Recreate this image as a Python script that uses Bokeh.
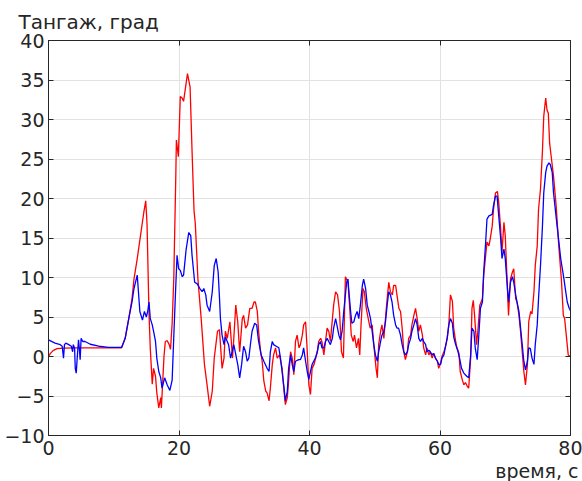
from bokeh.plotting import figure
from bokeh.models import (LinearAxis, Range1d, SingleIntervalTicker, Title,
                          CustomJSTickFormatter, ColumnDataSource)
from bokeh.embed import file_html
from bokeh.resources import INLINE

# Pitch angle over time: commanded (red) and measured (blue)
t_red = [0, 0.3, 0.7, 1.3, 2.3, 4, 6, 8, 10, 11.2, 11.75, 12.3, 12.8, 13.1, 13.6, 14.1, 14.6, 14.9,
         15.1, 15.4, 15.6, 15.9, 16.1, 16.4, 16.6, 16.9, 17.2, 17.3, 17.7, 17.9, 18.2, 18.5, 18.7,
         18.95, 19.2, 19.5, 19.6, 19.9, 20.2, 20.5, 20.7, 21.3, 21.7, 22.0, 22.3, 22.5, 22.9, 23.4,
         23.9, 24.3, 24.7, 25.1, 25.4, 25.9, 26.2, 26.6, 26.9, 27.1, 27.4, 27.8, 28.2, 28.4, 28.7,
         29.0, 29.3, 29.7, 29.9, 30.2, 30.5, 30.85, 31.2, 31.5, 31.7, 32.0, 32.2, 32.5, 32.75, 33.0,
         33.3, 33.5, 33.8, 34.0, 34.3, 34.5, 34.8, 35.05, 35.4, 35.8, 36.1, 36.3, 36.6, 36.8, 37.1,
         37.35, 37.6, 37.85, 38.1, 38.4, 38.6, 38.9, 39.1, 39.4, 39.6, 39.9, 40.15, 40.4, 40.7, 41.2,
         41.4, 41.7, 41.9, 42.2, 42.45, 42.7, 42.95, 43.2, 43.7, 44.0, 44.3, 44.6, 44.9, 45.2, 45.5,
         45.9, 46.2, 46.4, 46.7, 46.9, 47.2, 47.5, 47.7, 47.9, 48.2, 48.4, 48.7, 49.0, 49.3, 49.6,
         49.9, 50.2, 50.4, 50.6, 50.9, 51.1, 51.4, 51.6, 51.9, 52.15, 52.4, 52.7, 52.9, 53.2, 53.4,
         53.7, 53.95, 54.2, 54.45, 54.7, 55.0, 55.2, 55.5, 55.7, 56.0, 56.25, 56.5, 56.75, 57.0, 57.3,
         57.5, 57.8, 58.0, 58.3, 58.5, 58.8, 59.05, 59.3, 59.6, 59.8, 60.1, 60.3, 60.6, 60.8, 61.1,
         61.35, 61.6, 61.9, 62.1, 62.4, 62.6, 62.9, 63.1, 63.4, 63.65, 63.9, 64.2, 64.4, 64.7, 64.9,
         65.1, 65.3, 65.6, 65.8, 66.1, 66.5, 66.7, 67.0, 67.2, 67.5, 67.7, 68.0, 68.2, 68.5, 68.8,
         69.0, 69.3, 69.5, 69.8, 70.0, 70.3, 70.5, 70.8, 71.1, 71.3, 71.6, 71.8, 72.1, 72.3, 72.6,
         72.85, 73.1, 73.4, 73.6, 73.9, 74.1, 74.4, 74.6, 74.9, 75.1, 75.4, 75.7, 75.9, 76.2, 76.4,
         76.6, 76.8, 77.1, 77.4, 77.8, 78.2, 78.6, 78.9, 79.1, 79.4, 79.65, 80]
v_red = [0, 0.4, 0.75, 1.0, 1.05, 1.1, 1.1, 1.1, 1.1, 1.1, 2.3, 4.8, 7.3, 9.8, 12.4, 15.3, 18.2, 19.7,
         16.8, 5.5, 1.0, -3.5, -1.5, -2.5, -4.6, -6.5, -5.2, -6.5, 0.0, 1.9, 2.0, 1.5, 0.9,
         4.2, 9.8, 22.4, 27.4, 25.3, 32.9, 32.7, 32.3, 35.8, 34.1, 26.0, 18.5, 16.8, 9.8, 4.8,
         -1.0, -3.6, -6.3, -4.4, -0.2, 3.2, 3.4, -1.5, -0.2, 3.2, 2.3, 4.4, -0.2, 2.3, 6.5,
         4.4, 0.6, 4.8, 5.2, 3.6, 4.0, 6.1, 6.1, 6.9, 6.9, 5.7, 3.2, 0.6, -0.6, -3.1,
         -4.4, -4.6, -5.6, -4.0, -1.0, 0.2, 1.1, -0.2, 0.2, -1.5, -4.4, -6.1, -5.2, -3.1, 0.6,
         -0.2, -2.3, 1.9, 2.7, 1.1, 1.5, 2.7, 4.0, 4.4, 1.5, -3.6, -4.8, -1.5, -1.0, 0.6,
         1.9, 2.3, 1.9, 0.2, 1.9, 3.6, 3.2, 1.9, 6.5, 8.2, 7.8, 5.7, 0.6, -0.2, 10.1,
         9.4, 5.7, 2.7, 1.9, 2.7, 1.1, 2.3, 0.2, 4.0, 8.6, 8.2, 6.1, 4.8, 3.6, 4.0,
         1.1, -1.5, -2.7, 1.5, 3.2, 4.0, 2.3, 4.4, 7.3, 9.4, 8.2, 7.8, 9.0, 9.0, 7.8,
         6.1, 5.7, 3.6, 0.6, -0.4, 0.6, 2.3, 2.7, 4.0, 5.2, 6.1, 4.8, 3.2, 4.0, 2.7,
         1.1, 0.2, 1.1, 0.2, 0.6, -0.2, 0.4, -0.2, -0.6, -1.5, -0.8, 0.0, 0.6, 1.1, 2.3,
         4.0, 7.8, 7.0, 3.6, 1.9, 1.1, 0.4, -1.9, -2.9, -3.6, -3.3, -3.8, -4.0, -0.2, 6.1,
         7.1, 5.2, 1.5, 3.2, 6.5, 7.3, 10.3, 12.8, 14.5, 14.0, 14.9, 16.5, 18.6, 20.7, 20.9,
         19.5, 16.1, 13.2, 17.0, 15.3, 9.4, 5.2, 9.8, 10.7, 11.1, 7.3, 6.9, 5.2, 3.6, 0.6,
         -1.9, -3.6, -1.0, 4.4, 5.7, 5.4, 8.2, 11.5, 14.0, 18.6, 21.2, 26.0, 30.4, 32.7, 31.2,
         30.8, 27.0, 24.9, 22.8, 19.1, 14.0, 9.8, 5.2, 4.8, 2.3, 0.2, 0.0]

t_blue = [0, 1.0, 1.8, 2.1, 2.3, 2.45, 2.65, 3.1, 3.5, 3.7, 3.8, 4.0, 4.1, 4.25, 4.4, 4.6, 4.75, 4.85,
          5.0, 5.25, 5.6, 6.4, 7.7, 9.2, 11.2, 11.75, 12.3, 12.8, 13.1, 13.6, 14.0, 14.4, 14.7, 15.0,
          15.2, 15.4, 15.6, 15.9, 16.1, 16.4, 16.6, 16.9, 17.2, 17.4, 17.8, 18.2, 18.6, 18.95, 19.2,
          19.45, 19.7, 19.95, 20.2, 20.5, 20.7, 21.1, 21.5, 21.8, 22.0, 22.4, 22.8, 23.2, 23.55, 23.8,
          24.1, 24.3, 24.7, 25.1, 25.4, 25.7, 26.0, 26.2, 26.35, 26.6, 26.9, 27.1, 27.6, 27.9, 28.15,
          28.4, 29.0, 29.3, 29.6, 29.9, 30.2, 30.45, 30.7, 31.0, 31.2, 31.6, 31.9, 32.2, 32.6, 33.0,
          33.5, 33.8, 34.0, 34.3, 34.5, 34.9, 35.3, 35.55, 35.8, 36.1, 36.3, 36.6, 36.8, 37.1, 37.35,
          37.6, 37.85, 38.35, 38.6, 38.9, 39.1, 39.4, 39.65, 39.9, 40.15, 40.4, 40.65, 40.9, 41.2,
          41.4, 41.7, 41.9, 42.2, 42.45, 42.7, 42.95, 43.2, 43.5, 43.7, 44.0, 44.2, 44.5, 44.75, 45.0,
          45.25, 45.5, 45.7, 45.9, 46.0, 46.3, 46.5, 46.8, 47.05, 47.3, 47.55, 47.8, 48.1, 48.3, 48.6,
          48.85, 49.1, 49.35, 49.6, 49.85, 50.1, 50.4, 50.6, 50.9, 51.1, 51.4, 51.65, 51.9, 52.15,
          52.4, 52.65, 52.9, 53.2, 53.4, 53.65, 53.95, 54.2, 54.45, 54.7, 55.0, 55.2, 55.5, 55.7, 56.0,
          56.25, 56.5, 56.75, 57.0, 57.3, 57.5, 57.8, 58.0, 58.3, 58.5, 58.8, 59.0, 59.3, 59.6, 59.8,
          60.1, 60.3, 60.6, 60.8, 61.1, 61.35, 61.6, 61.9, 62.1, 62.4, 62.7, 63.0, 63.3, 63.65, 64.1,
          64.4, 64.7, 64.9, 65.2, 65.4, 65.7, 65.95, 66.2, 66.5, 66.7, 67.0, 67.2, 67.5, 68.0, 68.2,
          68.5, 68.75, 69.0, 69.3, 69.5, 69.8, 70.0, 70.3, 70.5, 70.8, 71.1, 71.3, 71.6, 71.8, 72.1,
          72.3, 72.6, 72.85, 73.1, 73.4, 73.6, 73.85, 74.1, 74.4, 74.6, 74.9, 75.1, 75.4, 75.7, 75.9,
          76.2, 76.4, 76.7, 76.9, 77.2, 77.4, 77.95, 78.5, 79.0, 79.2, 79.5, 79.8, 80]
v_blue = [2.1, 1.7, 1.5, 1.3, -0.2, 1.5, 1.7, 1.5, 1.3, 0.6, 1.5, 1.05, -1.5, -2.1, -0.2, 2.1, 0.8, -0.4,
          2.3, 1.9, 1.9, 1.55, 1.3, 1.15, 1.15, 2.3, 4.8, 6.9, 8.6, 10.3, 5.7, 4.6, 5.7, 5.0,
          5.7, 6.9, 4.8, 4.0, 3.2, 1.9, -0.2, -1.9, -2.7, -4.0, -2.7, -3.6, -4.3, -3.0, 2.5,
          7.8, 12.8, 11.1, 10.9, 10.1, 10.3, 13.6, 15.7, 15.3, 12.8, 9.4, 9.2, 8.6, 8.2, 8.6,
          7.8, 6.5, 5.7, 8.2, 11.5, 12.4, 10.7, 7.5, 4.8, 2.7, 1.5, 2.5, 1.5, -0.2, 0.6,
          1.5, -1.0, -2.7, -1.0, 1.3, 0.6, -0.6, -0.2, 1.9, 3.2, 4.2, 4.0, 1.9, 0.2, -0.6,
          -1.5, -1.9, 0.6, 1.9, 1.5, 1.3, 1.1, -0.2, -1.9, -4.0, -5.6, -4.4, -1.5, 0.2, -1.0,
          -1.9, -0.6, -0.4, -0.4, 0.2, 1.1, -0.6, -1.9, -2.9, -1.9, -1.0, -0.6, -0.2, 0.6,
          1.5, 1.9, 1.1, 1.1, 1.9, 2.3, 1.9, 1.5, 2.3, 3.6, 4.8, 4.0, 2.7, 2.1, 3.2,
          5.7, 7.8, 9.4, 9.8, 8.6, 5.7, 4.2, 4.4, 5.2, 5.7, 4.8, 6.5, 9.0, 9.8, 8.6,
          6.5, 5.7, 4.8, 3.2, 1.5, 0.2, -0.6, 0.6, 1.9, 2.7, 3.2, 4.4, 6.5, 8.2,
          7.8, 6.9, 5.2, 4.0, 3.6, 3.6, 2.7, 1.5, 0.6, 0.2, 0.6, 1.5, 2.3, 3.2, 4.0,
          4.8, 4.0, 2.3, 1.9, 2.3, 1.9, 1.5, 0.6, 0.8, 0.6, 0.2, 0.4, -0.2, -0.6, -1.0,
          -1.0, -0.2, 0.2, 1.1, 2.3, 4.0, 4.8, 4.2, 2.5, 1.5, 0.8, -0.2, -1.5, -2.1, -2.5,
          -2.7, 0.2, 3.6, 3.2, 1.1, -0.4, 2.7, 6.1, 6.9, 10.7, 14.5, 17.4, 17.8, 18.0, 19.1,
          20.3, 20.3, 17.8, 14.9, 12.4, 13.6, 12.4, 9.0, 6.9, 9.4, 10.1, 9.4, 7.8, 6.9, 5.7,
          4.0, 1.5, -0.6, -1.7, -0.6, 1.1, 1.0, -0.2, -1.0, 1.5, 4.0, 7.3, 11.5, 16.5, 20.7,
          23.3, 24.1, 24.5, 24.3, 23.3, 20.7, 16.5, 12.4, 9.8, 8.6, 6.9, 6.1, 5.8]

x_ticks_step = 20
y_ticks_step = 5
title_text = "Тангаж, град"
x_label_text = "время, с"

FONT = "DejaVu Sans"
INK = "#262626"

p = figure(width=582, height=481, output_backend="svg", toolbar_location=None,
           x_range=Range1d(0, 80), y_range=Range1d(-10, 40),
           min_border_left=48, min_border_right=12, min_border_top=40, min_border_bottom=43,
           x_axis_location=None, y_axis_location=None)
p.outline_line_color = INK
p.outline_line_width = 1
p.background_fill_color = "white"
p.border_fill_color = "white"


def style_axis(ax, show_labels, standoff=0):
    ax.major_tick_in = 5
    ax.major_tick_out = 0
    ax.minor_tick_line_color = None
    ax.axis_line_color = INK
    ax.major_tick_line_color = INK
    ax.major_label_text_font = FONT
    ax.major_label_text_font_size = "19px"
    ax.major_label_text_color = INK
    ax.major_label_standoff = standoff
    if not show_labels:
        ax.formatter = CustomJSTickFormatter(code="return ''")


xt = SingleIntervalTicker(interval=x_ticks_step)
yt = SingleIntervalTicker(interval=y_ticks_step)

bottom = LinearAxis(ticker=xt)
left = LinearAxis(ticker=yt)
top = LinearAxis(ticker=xt)
right = LinearAxis(ticker=yt)
style_axis(bottom, True, standoff=1)
style_axis(left, True)
style_axis(top, False)
style_axis(right, False)
p.add_layout(bottom, "below")
p.add_layout(left, "left")
p.add_layout(top, "above")
p.add_layout(right, "right")

# Axis captions: the quantity name over the top-left corner, the time caption
# under the bottom-right corner
p.title.text = title_text
p.title.align = "left"
p.title.offset = -30
p.title.standoff = 6
p.title.text_font = FONT
p.title.text_font_size = "20px"
p.title.text_font_style = "normal"
p.title.text_color = INK

p.add_layout(Title(text=x_label_text, align="right", offset=-8, standoff=0,
                   text_font=FONT, text_font_size="19px", text_font_style="normal",
                   text_color=INK), "below")

p.xgrid.ticker = xt
p.ygrid.ticker = yt
for g in (p.xgrid, p.ygrid):
    g.grid_line_color = "#e2e2e2"
    g.grid_line_width = 1

red_src = ColumnDataSource(dict(t=t_red, v=v_red))
blue_src = ColumnDataSource(dict(t=t_blue, v=v_blue))
p.line("t", "v", source=red_src, line_color="#ff0000", line_width=1.3)
p.line("t", "v", source=blue_src, line_color="#0000ff", line_width=1.3)

open("out.html", "w").write(file_html(p, INLINE))
